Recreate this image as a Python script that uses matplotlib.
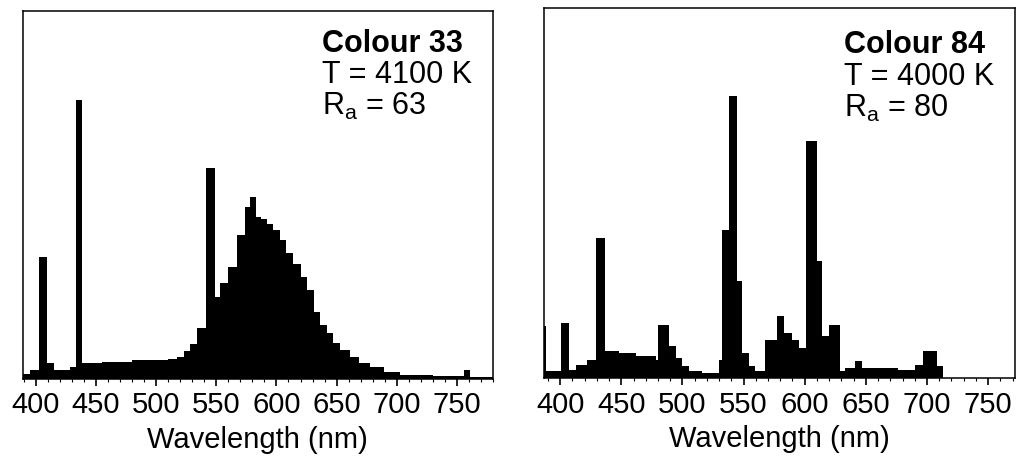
import matplotlib.pyplot as plt
from matplotlib.ticker import MultipleLocator

plt.rcParams["font.family"] = ["Liberation Sans", "DejaVu Sans"]

# Colour 33 (left panel): step spectrum, wavelength edges (nm) and relative power
wl_33 = [389, 395, 403, 409, 415, 428, 433, 438, 455, 480, 510, 517, 523, 528,
         534, 541.5, 548.5, 553, 560, 567, 574, 578, 583, 587, 592, 597, 603,
         608, 614, 620, 625, 631, 636, 642, 647, 653, 661, 669, 678, 689, 703,
         730, 756, 761, 780]
val_33 = [5, 9, 122, 16, 9, 12, 279, 16, 17, 19, 20, 22, 28, 35,
          51, 211, 82, 96, 112, 144, 172, 182, 162, 160, 155, 149, 139,
          126, 115, 102, 89, 67, 54, 46, 36, 29, 22, 16, 12, 7, 4,
          3, 9, 2, 2]

# Colour 84 (right panel)
wl_84 = [386.9, 388.3, 400.5, 407.3, 412.8, 422.3, 429.1, 436.7, 448.1, 461.7,
         478.1, 480.2, 488.9, 494.4, 499.8, 505.2, 516.1, 529.7, 532.4, 537.9,
         544.7, 548.8, 554.2, 559.6, 567.8, 573.2, 577.3, 582.8, 589.6, 595.0,
         601.0, 610.0, 614.0, 619.5, 629.0, 633.1, 641.2, 646.7, 676.6, 690.2,
         697.0, 707.9, 713.3]
val_84 = [52, 7, 55, 8, 13, 18, 140, 27, 25, 22,
          18, 53, 32, 20, 12, 7, 5, 18, 148, 282,
          97, 25, 12, 7, 38, 38, 62, 45, 38, 30,
          237, 117, 42, 53, 7, 10, 17, 10, 8, 13,
          27, 12, 0]

ticks = [400, 450, 500, 550, 600, 650, 700, 750]

panels = [
    (wl_33, val_33, "Colour 33", "T = 4100 K", r"R$_\mathregular{a}$ = 63",
     [0.0223, 0.1867, 0.4629, 0.7897], (389, 780), 368, [0.889, 0.804, 0.717]),
    (wl_84, val_84, "Colour 84", "T = 4000 K", r"R$_\mathregular{a}$ = 80",
     [0.5357, 0.1888, 0.4633, 0.7934], (387, 772), 370, [0.878, 0.793, 0.707]),
]

fig = plt.figure(figsize=(10.16, 4.66), dpi=100)

for wl, val, name, temp, ra, rect, xlim, ytop, ys in panels:
    ax = fig.add_axes(rect)
    ax.fill_between(wl, val, step="post", color="black", linewidth=0)
    ax.set_xlim(*xlim)
    ax.set_ylim(0, ytop)
    ax.set_yticks([])
    ax.set_xticks(ticks)
    ax.xaxis.set_minor_locator(MultipleLocator(10))
    ax.tick_params(axis="x", which="major", direction="out", length=5,
                   width=1.2, labelsize=21, pad=4)
    ax.tick_params(axis="x", which="minor", direction="out", length=2.5,
                   width=0.8)
    for sp in ax.spines.values():
        sp.set_linewidth(1.1)
    ax.set_xlabel("Wavelength (nm)", fontsize=21, labelpad=5)
    ax.text(0.636, ys[0], name, transform=ax.transAxes, fontsize=22,
            fontweight="bold", va="baseline")
    ax.text(0.636, ys[1], temp, transform=ax.transAxes, fontsize=22,
            va="baseline")
    ax.text(0.636, ys[2], ra, transform=ax.transAxes, fontsize=22,
            va="baseline")

fig.savefig("out.png", dpi=100)
